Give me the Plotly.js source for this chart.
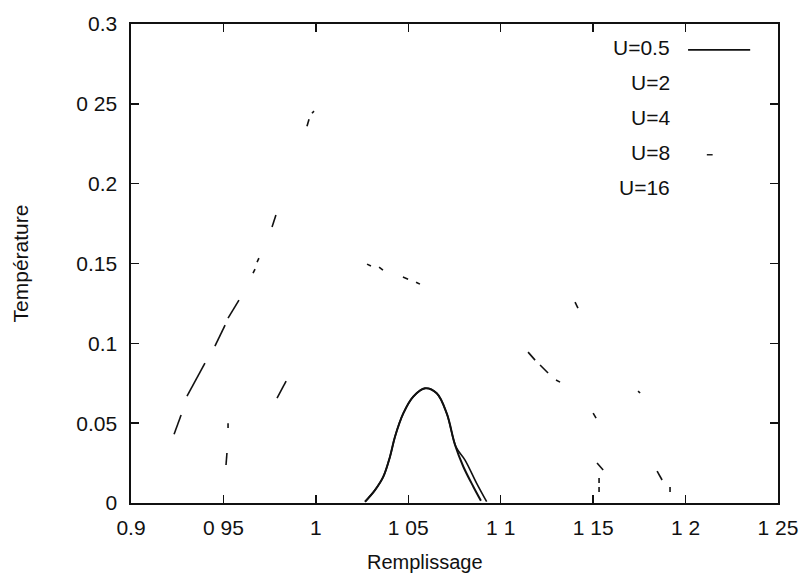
<!DOCTYPE html>
<html>
<head>
<meta charset="utf-8">
<script src="https://cdn.plot.ly/plotly-3.0.1.min.js"></script>
<style>html,body{margin:0;padding:0;background:#fff;}#chart{width:805px;height:573px;}</style>
</head>
<body>
<div id="chart"></div>
<script>
// ---- data (null = gap between visible fragments) ----
const seriesNames = ["U=0.5", "U=2", "U=4", "U=8", "U=16"];

const u05X = [1.0266, 1.032, 1.0365, 1.0401, 1.0428, 1.0473, 1.0527, 1.059, 1.0654, 1.0708, 1.0753, 1.0798, 1.0852, 1.0893];
const u05Y = [0.0008, 0.0081, 0.0165, 0.029, 0.0415, 0.0561, 0.0666, 0.0718, 0.0687, 0.0561, 0.0363, 0.0227, 0.0102, 0.0014];

const u2X = [1.0266, 1.032, 1.0365, 1.0401, 1.0428, 1.0473, 1.0527, 1.059, 1.0654, 1.0708, 1.0758, 1.0807, 1.087, 1.0924];
const u2Y = [0.0008, 0.0081, 0.0165, 0.029, 0.0415, 0.0561, 0.0666, 0.0718, 0.0687, 0.0561, 0.0352, 0.0269, 0.0123, 0.0008];

const u4X = [0.9514, 0.9519, null, 0.9525, 0.9525, null, 0.979, 0.9839, null,
             1.1148, 1.1186, null, 1.1213, 1.1256, null, 1.1299, 1.1321, null,
             1.15, 1.1516, null, 1.1521, 1.1554, null, 1.1532, 1.1532, null, 1.1532, 1.1532];
const u4Y = [0.0238, 0.0313, null, 0.047, 0.050, null, 0.0657, 0.0764, null,
             0.0945, 0.0895, null, 0.0864, 0.0814, null, 0.077, 0.0757, null,
             0.0563, 0.0532, null, 0.025, 0.0207, null, 0.0157, 0.0125, null, 0.0100, 0.0069];

const u8X = [0.9233, 0.9252, 0.9271, null, 0.9303, 0.94, null, 0.9454, 0.9509, null, 0.9525, 0.9584, null,
             1.0277, 1.0298, null, 1.0342, 1.0363, null, 1.0471, 1.0499, null, 1.0542, 1.0563, null,
             1.1402, 1.1418, null, 1.1743, 1.1754, null, 1.1846, 1.1873, null, 1.1916, 1.1916];
const u8Y = [0.043, 0.049, 0.0551, null, 0.067, 0.0876, null, 0.0983, 0.1114, null, 0.1158, 0.1271, null,
             0.1496, 0.1484, null, 0.1477, 0.1459, null, 0.1415, 0.1402, null, 0.1383, 0.1371, null,
             0.1258, 0.1221, null, 0.0701, 0.0689, null, 0.0200, 0.0144, null, 0.0100, 0.0069];

const u16X = [0.966, 0.9671, null, 0.9682, 0.9692, null, 0.9763, 0.9784, null, 0.9952, 0.9963, null, 0.9979, 0.999];
const u16Y = [0.144, 0.1465, null, 0.1509, 0.1534, null, 0.1728, 0.1803, null, 0.236, 0.2404, null, 0.2441, 0.2454];

const xTickVals = [0.9, 0.95, 1.0, 1.05, 1.1, 1.15, 1.2, 1.25];
const xTickText = ["0.9", "0 95", "1", "1 05", "1 1", "1 15", "1 2", "1 25"];
const yTickVals = [0, 0.05, 0.1, 0.15, 0.2, 0.25, 0.3];
const yTickText = ["0", "0.05", "0.1", "0.15", "0.2", "0 25", "0.3"];
const xTitle = "Remplissage";
const yTitle = "Température";

// ---- traces ----
const ink = "#111111";
const fam = "Liberation Sans, Arial, sans-serif";
const traces = [
  {x: u05X, y: u05Y, name: seriesNames[0], mode: "lines", line: {color: ink, width: 2, shape: "spline"}, showlegend: false},
  {x: u2X,  y: u2Y,  name: seriesNames[1], mode: "lines", line: {color: ink, width: 1.6, shape: "spline"}, showlegend: false},
  {x: u4X,  y: u4Y,  name: seriesNames[2], mode: "lines", line: {color: ink, width: 1.6}, connectgaps: false, showlegend: false},
  {x: u8X,  y: u8Y,  name: seriesNames[3], mode: "lines", line: {color: ink, width: 1.6}, connectgaps: false, showlegend: false},
  {x: u16X, y: u16Y, name: seriesNames[4], mode: "lines", line: {color: ink, width: 1.6}, connectgaps: false, showlegend: false}
];

// ---- key (gnuplot style: right-aligned labels, sample to the right) ----
const keyFont = {family: fam, size: 21, color: ink};
const keyY = [0.950, 0.877, 0.804, 0.731, 0.658];
const annotations = seriesNames.map((n, i) => ({
  xref: "paper", yref: "paper", x: 0.836, y: keyY[i], xanchor: "right", yanchor: "middle",
  text: n, showarrow: false, font: keyFont
}));
// x-axis label (gnuplot placed it left of the plot centre)
annotations.push({
  xref: "paper", yref: "paper", x: 0.454, y: -0.123, xanchor: "center", yanchor: "middle",
  text: xTitle, showarrow: false, font: {family: fam, size: 20, color: ink}
});
const shapes = [
  {type: "line", xref: "paper", yref: "paper", x0: 0.861, x1: 0.957, y0: 0.946, y1: 0.946, line: {color: ink, width: 1.6}},
  {type: "line", xref: "paper", yref: "paper", x0: 0.890, x1: 0.899, y0: 0.727, y1: 0.727, line: {color: ink, width: 1.4}}
];

const axisCommon = {
  showgrid: false, zeroline: false, showline: true, linecolor: ink, linewidth: 1.6,
  mirror: "ticks", ticks: "inside", ticklen: 8, tickwidth: 1.4, tickcolor: ink,
  tickfont: {family: fam, size: 21, color: ink}
};

const layout = {
  width: 805, height: 573,
  margin: {l: 131, r: 27, t: 24, b: 70},
  paper_bgcolor: "#ffffff", plot_bgcolor: "#ffffff",
  font: {family: fam, color: ink},
  xaxis: Object.assign({}, axisCommon, {
    range: [0.9, 1.25], tickmode: "array", tickvals: xTickVals, ticktext: xTickText,
    ticklabelstandoff: 5
  }),
  yaxis: Object.assign({}, axisCommon, {
    range: [0, 0.3], tickmode: "array", tickvals: yTickVals, ticktext: yTickText,
    ticklabelstandoff: 8,
    title: {text: yTitle, font: {family: fam, size: 21, color: ink}, standoff: 42}
  }),
  annotations: annotations,
  shapes: shapes
};

Plotly.newPlot("chart", traces, layout, {displayModeBar: false, staticPlot: true});
</script>
</body>
</html>
